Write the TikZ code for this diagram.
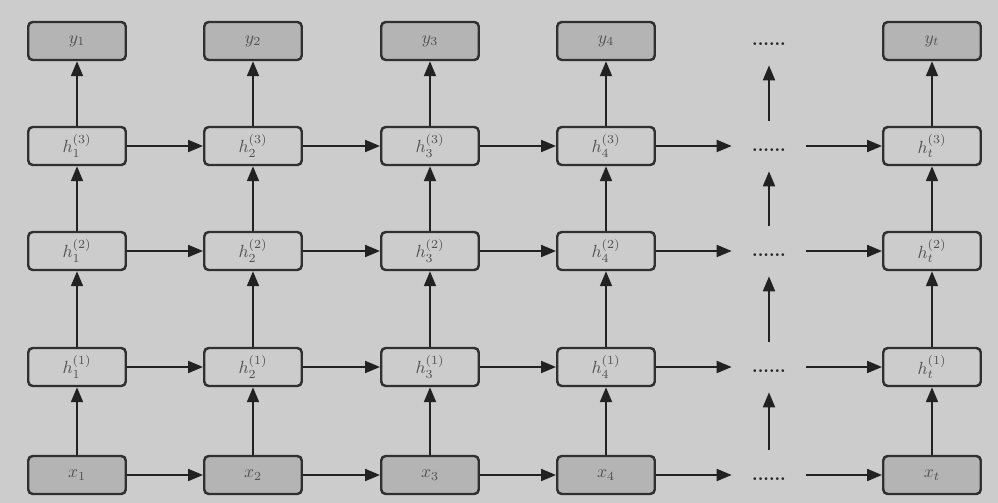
\documentclass[tikz,border=0pt]{standalone}
\usetikzlibrary{arrows.meta}
\definecolor{bg}{HTML}{CCCCCC}
\definecolor{gfill}{HTML}{B4B4B4}
\definecolor{edge}{HTML}{303030}
\definecolor{txt}{HTML}{505050}
\definecolor{arr}{HTML}{222222}
\begin{document}
\begin{tikzpicture}[x=0.02cm,y=-0.02cm,
  box/.style={draw=edge, line width=1.4pt, rounded corners=2.5pt, minimum width=1.95cm, minimum height=0.76cm, inner sep=0pt, text=txt, fill=bg},
  gbox/.style={box, fill=gfill},
  dotsn/.style={minimum width=1.48cm, minimum height=1.0cm, inner sep=0pt, text=arr, text height=6.5pt, text depth=0pt, font=\bfseries},
  link/.style={draw=arr, line width=1.1pt, -{Triangle[length=8.5pt,width=6.8pt]}}
]
\fill[bg] (0,0) rectangle (998,503);
\useasboundingbox (0,0) rectangle (998,503);
\foreach \i/\cx/\s in {1/77/1,2/253/2,3/430/3,4/606/4,5/932/t} {
  \node[gbox] (x\i) at (\cx,475) {$x_{\s}$};
  \node[box] (ha\i) at (\cx,367) {$h_{\s}^{(1)}$};
  \node[box] (hb\i) at (\cx,251) {$h_{\s}^{(2)}$};
  \node[box] (hc\i) at (\cx,146) {$h_{\s}^{(3)}$};
  \node[gbox] (y\i) at (\cx,41) {$y_{\s}$};
}
\node[dotsn] (xd) at (769,475) {......};
\node[dotsn] (had) at (769,367) {......};
\node[dotsn] (hbd) at (769,251) {......};
\node[dotsn] (hcd) at (769,146) {......};
\node[dotsn] (yd) at (769,40) {......};
% vertical
\foreach \i in {1,2,3,4,5} {
  \draw[link] (x\i) -- (ha\i);
  \draw[link] (ha\i) -- (hb\i);
  \draw[link] (hb\i) -- (hc\i);
  \draw[link] (hc\i) -- (y\i);
}
\draw[link] (xd) -- (had);
\draw[link] (had) -- (hbd);
\draw[link] (hbd) -- (hcd);
\draw[link] (hcd) -- (yd);
% horizontal
\foreach \r in {x,ha,hb,hc} {
  \draw[link] (\r1) -- (\r2);
  \draw[link] (\r2) -- (\r3);
  \draw[link] (\r3) -- (\r4);
  \draw[link] (\r4) -- (\r d);
  \draw[link] (\r d) -- (\r5);
}
\end{tikzpicture}
\end{document}
